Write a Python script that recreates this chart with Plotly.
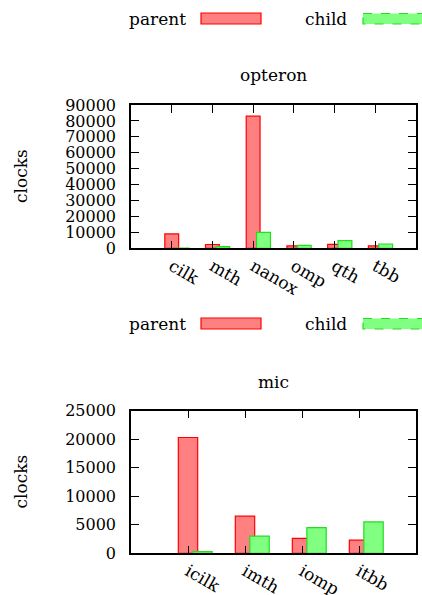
import plotly.graph_objects as go

# ---- data ----
opteron_cats = ["cilk", "mth", "nanox", "omp", "qth", "tbb"]
opteron_parent = [9000, 2400, 83000, 1500, 2500, 1500]
opteron_child = [200, 1000, 10000, 1800, 4800, 2700]

mic_cats = ["icilk", "imth", "iomp", "itbb"]
mic_parent = [20300, 6500, 2600, 2300]
mic_child = [300, 3000, 4500, 5500]

series_names = ["parent", "child"]
titles = ["opteron", "mic"]
y_title = "clocks"

W, H = 422, 595
FONT = "DejaVu Serif"
FS = 17
YFS = 16
RED_FILL, RED_LINE = "#ff8080", "#ff0000"
GRN_FILL, GRN_LINE = "#80ff80", "#22dd22"

fig = go.Figure()

def px_y(y):  # pixel from top -> paper
    return 1 - y / H

def px_x(x):
    return x / W

xdom = [px_x(131), px_x(416)]
ydom_top = [px_y(248.3), px_y(105)]
ydom_bot = [px_y(553.3), px_y(410.7)]

BW = 0.34
panels = [
    (opteron_cats, opteron_parent, opteron_child, "x", "y", ydom_top, [0, 90000], 10000),
    (mic_cats, mic_parent, mic_child, "x2", "y2", ydom_bot, [0, 25000], 5000),
]

for k, (cats, par, chi, xa, ya, ydom, yr, dt) in enumerate(panels):
    fig.add_trace(go.Bar(x=cats, y=par, name=series_names[0], xaxis=xa, yaxis=ya,
                         width=BW, offset=-BW / 2,
                         marker=dict(color=RED_FILL, line=dict(color=RED_LINE, width=1.2)),
                         showlegend=False))
    fig.add_trace(go.Bar(x=cats, y=chi, name=series_names[1], xaxis=xa, yaxis=ya,
                         width=BW, offset=0.255 - BW / 2,
                         marker=dict(color=GRN_FILL, line=dict(color=GRN_LINE, width=1.2)),
                         showlegend=False))
    xname = "xaxis" if k == 0 else "xaxis2"
    yname = "yaxis" if k == 0 else "yaxis2"
    fig.layout[xname] = dict(domain=xdom, anchor=ya, range=[-1, len(cats)],
                             type="category", showline=True, mirror="allticks",
                             linecolor="black", linewidth=1.5, ticks="inside",
                             ticklen=8, tickcolor="black", tickwidth=1.2,
                             tickangle=30, showgrid=False, zeroline=False,
                             automargin=False,
                             tickfont=dict(family=FONT, size=FS, color="black"))
    fig.layout[yname] = dict(domain=ydom, anchor=xa, range=yr, dtick=dt, tick0=0,
                             tickformat="d", separatethousands=False,
                             showline=True, mirror="allticks", linecolor="black",
                             linewidth=1.5, ticks="inside", ticklen=8,
                             tickcolor="black", tickwidth=1.2, showgrid=False,
                             zeroline=False, ticklabelstandoff=10, automargin=False,
                             tickfont=dict(family=FONT, size=YFS, color="black"))

# titles, y labels, legends
title_y = [75, 382]
ylab_y = [176.5, 482]
leg_y = [18.5, 323.5]
annots = []
shapes = []
for k in range(2):
    annots.append(dict(text=titles[k], x=px_x(273.5), y=px_y(title_y[k]), xref="paper",
                       yref="paper", xanchor="center", yanchor="middle", showarrow=False,
                       font=dict(family=FONT, size=FS, color="black")))
    annots.append(dict(text=y_title, x=px_x(20.5), y=px_y(ylab_y[k]), xref="paper",
                       yref="paper", xanchor="center", yanchor="middle", showarrow=False,
                       textangle=-90, font=dict(family=FONT, size=FS, color="black")))
    ly = leg_y[k]
    annots.append(dict(text=series_names[0], x=px_x(188), y=px_y(ly + 1), xref="paper",
                       yref="paper", xanchor="right", yanchor="middle", showarrow=False,
                       font=dict(family=FONT, size=FS, color="black")))
    annots.append(dict(text=series_names[1], x=px_x(349), y=px_y(ly + 1), xref="paper",
                       yref="paper", xanchor="right", yanchor="middle", showarrow=False,
                       font=dict(family=FONT, size=FS, color="black")))
    shapes.append(dict(type="rect", xref="paper", yref="paper",
                       x0=px_x(201), x1=px_x(261), y0=px_y(ly - 5.5), y1=px_y(ly + 5.5),
                       fillcolor=RED_FILL, line=dict(color=RED_LINE, width=1.2)))
    shapes.append(dict(type="rect", xref="paper", yref="paper",
                       x0=px_x(363), x1=px_x(440), y0=px_y(ly - 5), y1=px_y(ly + 5.5),
                       fillcolor=GRN_FILL, line=dict(color=GRN_LINE, width=1.2, dash="dash")))

fig.update_layout(width=W, height=H, margin=dict(l=0, r=0, t=0, b=0, autoexpand=False),
                  paper_bgcolor="white", plot_bgcolor="white", barmode="overlay",
                  annotations=annots, shapes=shapes, showlegend=False)

fig.write_html("out.html")
